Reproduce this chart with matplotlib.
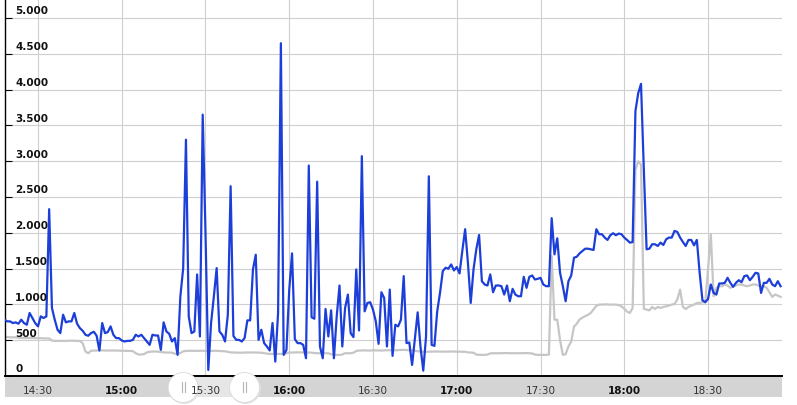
import pandas as pd
import matplotlib
matplotlib.use("Agg")
import matplotlib.pyplot as plt
from matplotlib.patches import Rectangle, Ellipse

# one reading per minute, starting 14:18
day = "2020-01-01 "
start_time = "14:18"

blue_values = [
    786, 763, 763, 739, 749, 730, 786, 739, 716, 880,
    810, 739, 693, 833, 810, 833, 2330, 950, 786, 646,
    599, 856, 749, 763, 763, 880, 730, 669, 632, 576,
    562, 599, 618, 562, 356, 739, 599, 613, 693, 576,
    529, 529, 496, 482, 491, 491, 505, 576, 552, 576,
    529, 482, 435, 576, 566, 566, 365, 749, 622, 590,
    482, 529, 295, 1114, 1500, 3300, 833, 599, 622, 1418,
    552, 3650, 2000, 84, 740, 1114, 1507, 622, 576, 482,
    856, 2650, 560, 505, 505, 482, 529, 777, 777, 1488,
    1694, 505, 646, 459, 412, 356, 740, 201, 880, 4647,
    295, 365, 1207, 1713, 515, 459, 459, 435, 248, 2939,
    820, 800, 2714, 412, 248, 936, 552, 917, 248, 833,
    1264, 412, 950, 1137, 599, 543, 1488, 636, 3070, 903,
    1020, 1030, 927, 763, 449, 1170, 1090, 412, 1207, 281,
    716, 693, 786, 1395, 459, 468, 154, 529, 889, 412,
    75, 552, 2789, 435, 421, 903, 1160, 1465, 1512, 1498,
    1558, 1474, 1521, 1432, 1750, 2050, 1582, 1020, 1488, 1769,
    1970, 1324, 1278, 1264, 1418, 1170, 1264, 1264, 1254, 1137,
    1264, 1044, 1217, 1137, 1114, 1114, 1385, 1231, 1385, 1404,
    1348, 1357, 1371, 1278, 1254, 1254, 2204, 1699, 1923, 1441,
    1254, 1044, 1324, 1404, 1652, 1666, 1713, 1746, 1778, 1778,
    1769, 1760, 2050, 1980, 1980, 1933, 1900, 1966, 1994, 1966,
    1989, 1980, 1933, 1900, 1863, 1870, 3700, 3950, 4080, 2892,
    1769, 1778, 1840, 1840, 1816, 1863, 1830, 1909, 1933, 1933,
    2026, 2012, 1933, 1872, 1816, 1900, 1900, 1825, 1900, 1441,
    1058, 1030, 1076, 1278, 1160, 1137, 1292, 1292, 1301, 1371,
    1301, 1245, 1301, 1338, 1310, 1395, 1404, 1338, 1385, 1441,
    1432, 1160, 1301, 1301, 1357, 1278, 1254, 1324, 1254,
]

grey_values = [
    545, 545, 540, 540, 540, 535, 530, 530, 530, 530,
    530, 528, 528, 528, 525, 525, 525, 495, 490, 490,
    490, 490, 490, 492, 492, 492, 490, 490, 458, 342,
    318, 352, 355, 356, 356, 358, 356, 355, 356, 356,
    356, 355, 352, 352, 350, 350, 348, 318, 300, 300,
    305, 330, 338, 342, 342, 340, 335, 330, 328, 328,
    326, 312, 309, 320, 345, 350, 352, 352, 352, 350,
    352, 352, 350, 348, 350, 352, 352, 350, 348, 345,
    338, 330, 328, 328, 325, 325, 328, 328, 328, 328,
    328, 326, 325, 320, 312, 309, 309, 309, 309, 309,
    312, 318, 328, 328, 330, 330, 330, 328, 328, 328,
    326, 320, 318, 318, 318, 318, 318, 305, 295, 295,
    295, 300, 318, 318, 318, 325, 350, 356, 356, 358,
    356, 356, 358, 358, 356, 356, 358, 360, 360, 358,
    360, 362, 365, 365, 362, 360, 358, 352, 345, 340,
    338, 338, 340, 340, 342, 342, 342, 340, 340, 340,
    342, 342, 340, 340, 338, 338, 330, 328, 325, 300,
    295, 295, 295, 300, 315, 318, 318, 318, 318, 320,
    320, 318, 318, 318, 318, 318, 320, 320, 318, 315,
    300, 295, 295, 295, 295, 300, 1675, 786, 786, 500,
    295, 305, 412, 482, 690, 730, 790, 815, 835, 855,
    880, 930, 980, 997, 997, 1000, 1000, 997, 997, 997,
    990, 973, 940, 900, 880, 950, 2880, 3000, 2950, 940,
    927, 917, 964, 936, 964, 950, 964, 973, 983, 997,
    1006, 1067, 1207, 964, 936, 964, 983, 997, 1020, 1020,
    1030, 1030, 1488, 1980, 1114, 1231, 1254, 1254, 1278, 1264,
    1231, 1254, 1264, 1278, 1278, 1264, 1254, 1264, 1278, 1278,
    1264, 1254, 1254, 1231, 1170, 1104, 1137, 1123, 1104,
]

tick_times = ["14:30", "15:00", "15:30", "16:00", "16:30", "17:00", "17:30", "18:00", "18:30"]
bold_ticks = ["15:00", "16:00", "17:00", "18:00"]
y_ticks = [0, 500, 1000, 1500, 2000, 2500, 3000, 3500, 4000, 4500, 5000]
view_range = ["14:18:11", "18:56:30"]
nav_handles = ["15:22", "15:44"]

times = pd.date_range(day + start_time, periods=len(blue_values), freq="min")

W, H = 797, 405
fig = plt.figure(figsize=(W / 100, H / 100), dpi=100)
fig.patch.set_facecolor("white")

ax = fig.add_axes([5 / W, 29 / H, 777 / W, 376 / H])
ax.plot(times, grey_values, color="#c6c6c6", lw=1.6, zorder=2)
ax.plot(times, blue_values, color="#1d3fd9", lw=1.6, zorder=3)
ax.set_xlim(pd.Timestamp(day + view_range[0]), pd.Timestamp(day + view_range[1]))
ax.set_ylim(0, 5251)

ax.set_yticks(y_ticks)
ax.set_xticks([pd.Timestamp(day + t) for t in tick_times])
ax.tick_params(axis="y", direction="in", length=5, width=0.8, color="black", labelleft=False)
ax.tick_params(axis="x", length=0, labelbottom=False)
ax.grid(True, color="#cfcfcf", lw=0.8)
ax.set_axisbelow(True)
for s in ["top", "right"]:
    ax.spines[s].set_visible(False)
ax.spines["left"].set_linewidth(1.0)
ax.spines["bottom"].set_linewidth(1.4)

for v in y_ticks:
    label = f"{v:,}".replace(",", ".")
    ax.annotate(label, xy=(0, v), xycoords=("axes fraction", "data"),
                xytext=(7.3, 1.2), textcoords="offset points",
                ha="left", va="bottom", fontsize=7.5, fontweight="bold", color="#111111")

# navigator strip below the plot
nav = fig.add_axes([5 / W, 0, 777 / W, 35 / H], sharex=ax)
nav.set_zorder(3)
nav.axis("off")
nav.set_ylim(405, 370)
x0, x1 = ax.get_xlim()
px = (x1 - x0) / 777
nav.add_patch(Rectangle((x0, 377), x1 - x0 + px, 20, facecolor="#d4d4d4", edgecolor="none"))
h0 = pd.Timestamp(day + nav_handles[0])
h1 = pd.Timestamp(day + nav_handles[1])
import matplotlib.dates as mdates
hn0, hn1 = mdates.date2num(h0), mdates.date2num(h1)
nav.add_patch(Rectangle((hn0, 377), hn1 - hn0, 20, facecolor="#e6e6e6", edgecolor="none"))
for h in [hn0, hn1]:
    nav.add_patch(Ellipse((h + 0.8 * px, 388.5), 31 * px, 31, facecolor="#e2e2e2",
                          edgecolor="none", clip_on=False, zorder=2))
    nav.add_patch(Ellipse((h, 387.5), 30 * px, 30, facecolor="white",
                          edgecolor="#dadada", lw=0.6, clip_on=False, zorder=3))
    for d in (-1.5, 1.5):
        nav.plot([h + d * px, h + d * px], [382, 392], color="#b5b5b5", lw=0.8, zorder=4)

for t in tick_times:
    bold = t in bold_ticks
    nav.text(pd.Timestamp(day + t), 390.5, t, ha="center", va="center", fontsize=7.5,
             fontweight="bold" if bold else "normal",
             color="#111111" if bold else "#333333", zorder=5)

fig.savefig("out.png", dpi=100)
